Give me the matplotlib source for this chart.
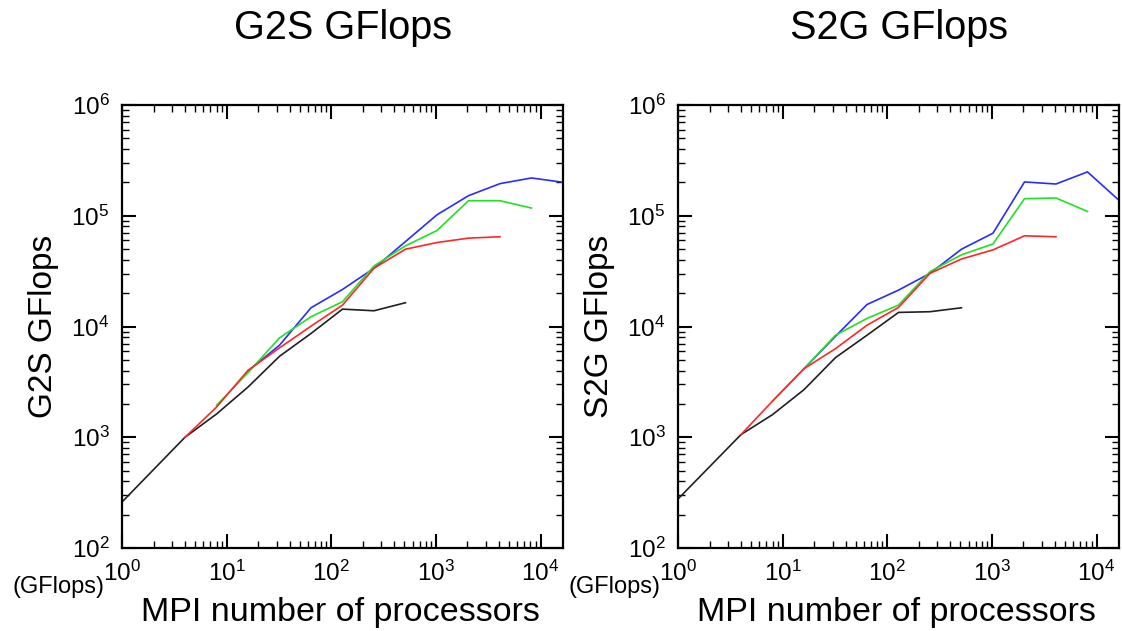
import matplotlib
matplotlib.use("Agg")
import matplotlib.pyplot as plt
from matplotlib.ticker import LogLocator, NullFormatter

plt.rcParams['font.family'] = ['Liberation Sans', 'DejaVu Sans']
plt.rcParams['mathtext.fontset'] = 'custom'
plt.rcParams['mathtext.rm'] = 'Liberation Sans'
plt.rcParams['mathtext.it'] = 'Liberation Sans:italic'

# number of MPI processors for each series
black_procs = [1, 4, 8, 16, 32, 64, 128, 256, 512]
red_procs = [4, 8, 16, 32, 64, 128, 256, 512, 1024, 2048, 4096]
green_procs = [8, 16, 32, 64, 128, 256, 512, 1024, 2048, 4096, 8192]
blue_procs = [16, 32, 64, 128, 256, 512, 1024, 2048, 4096, 8192, 16384]

# G2S GFlops
g2s_black = [260, 1000, 1620, 2840, 5380, 8650, 14350, 13870, 16400]
g2s_red = [1000, 1870, 4020, 6410, 10070, 15600, 33600, 49900, 57300, 62800, 64600]
g2s_green = [1940, 3830, 7890, 12250, 16750, 35200, 53500, 73600, 136700, 136700, 117300]
g2s_blue = [3960, 6780, 14760, 21600, 33600, 58500, 102000, 151800, 195000, 219400, 200500]

# S2G GFlops
s2g_black = [277, 1057, 1600, 2690, 5240, 8340, 13400, 13600, 14760]
s2g_red = [1057, 2120, 4160, 6310, 10280, 14860, 30200, 40700, 49200, 65900, 64600]
s2g_green = [2120, 4160, 8340, 11830, 15600, 31300, 44400, 55700, 142600, 144600, 109400]
s2g_blue = [4160, 8160, 15800, 21300, 30200, 49900, 69600, 201900, 193500, 248900, 137800]

panels = [
    ("G2S GFlops", g2s_black, g2s_red, g2s_green, g2s_blue),
    ("S2G GFlops", s2g_black, s2g_red, s2g_green, s2g_blue),
]

fig = plt.figure(figsize=(11.22, 6.31), dpi=100)
lefts = [122 / 1122, 678 / 1122]
width = 441 / 1122
bottom = 1 - 548 / 631
height = 443 / 631

for left, (name, bk, rd, gr, bl) in zip(lefts, panels):
    ax = fig.add_axes([left, bottom, width, height])
    ax.plot(black_procs, bk, color="#202020", lw=1.2)
    ax.plot(blue_procs, bl, color="#2b2bff", lw=1.2)
    ax.plot(green_procs, gr, color="#22e022", lw=1.2)
    ax.plot(red_procs, rd, color="#ff2626", lw=1.2)

    ax.set_xscale("log")
    ax.set_yscale("log")
    ax.set_xlim(1, 16384)
    ax.set_ylim(1e2, 1e6)

    for axis in (ax.xaxis, ax.yaxis):
        axis.set_major_locator(LogLocator(base=10, numticks=10))
        axis.set_minor_locator(LogLocator(base=10, subs=range(2, 10), numticks=20))
        axis.set_minor_formatter(NullFormatter())

    ax.tick_params(which="both", direction="in", top=True, right=True, labelsize=17.5)
    ax.tick_params(which="major", length=10, width=1.5)
    ax.tick_params(which="minor", length=5, width=1.0)
    ax.tick_params(axis="y", which="major", pad=9)
    ax.tick_params(axis="x", which="major", pad=9)
    for sp in ax.spines.values():
        sp.set_linewidth(1.6)

    ax.text(0.5, 1.174, name, transform=ax.transAxes, ha="center", va="center", fontsize=28.5)
    ax.text(-0.179, 0.5, name, transform=ax.transAxes, ha="center", va="center",
            rotation=90, fontsize=24)
    ax.text(0.495, -0.145, "MPI number of processors", transform=ax.transAxes,
            ha="center", va="center", fontsize=24.5)
    ax.text(-0.143, -0.088, "(GFlops)", transform=ax.transAxes, ha="center", va="center",
            fontsize=17)

fig.savefig("out.png", dpi=100)
